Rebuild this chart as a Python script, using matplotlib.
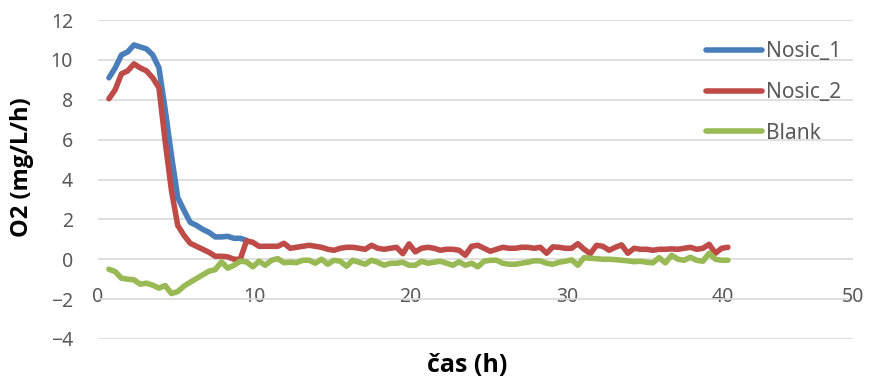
import matplotlib
matplotlib.use("Agg")
import matplotlib.pyplot as plt
from matplotlib.transforms import blended_transform_factory, ScaledTranslation

plt.rcParams['font.family'] = ['Noto Sans', 'DejaVu Sans']

times = [0.7, 1.1, 1.5, 1.9, 2.3, 2.7, 3.1, 3.5, 3.9, 4.3,
         4.7, 5.1, 5.5, 5.9, 6.3, 6.7, 7.1, 7.5, 7.9, 8.3,
         8.7, 9.1, 9.5, 9.9, 10.3, 10.7, 11.1, 11.5, 11.9, 12.3,
         12.7, 13.1, 13.5, 13.9, 14.3, 14.7, 15.1, 15.5, 15.9, 16.3,
         16.7, 17.1, 17.5, 17.9, 18.3, 18.7, 19.1, 19.5, 19.9, 20.3,
         20.7, 21.1, 21.5, 21.9, 22.3, 22.7, 23.1, 23.5, 23.9, 24.3,
         24.7, 25.1, 25.5, 25.9, 26.3, 26.7, 27.1, 27.5, 27.9, 28.3,
         28.7, 29.1, 29.5, 29.9, 30.3, 30.7, 31.1, 31.5, 31.9, 32.3,
         32.7, 33.1, 33.5, 33.9, 34.3, 34.7, 35.1, 35.5, 35.9, 36.3,
         36.7, 37.1, 37.5, 37.9, 38.3, 38.7, 39.1, 39.5, 39.9, 40.3]

nosic_1 = [9.1, 9.6, 10.25, 10.4, 10.75, 10.65, 10.55, 10.25, 9.6, 7.5,
           5.2, 3.1, 2.45, 1.85, 1.7, 1.5, 1.35, 1.12, 1.12, 1.15,
           1.05, 1.05, 0.95]

nosic_2 = [8.05, 8.5, 9.3, 9.45, 9.8, 9.6, 9.45, 9.1, 8.6, 5.9,
           3.45, 1.7, 1.2, 0.8, 0.65, 0.5, 0.35, 0.15, 0.15, 0.12,
           0.0, 0.0, 0.92, 0.85, 0.65, 0.65, 0.65, 0.65, 0.8, 0.55,
           0.6, 0.65, 0.7, 0.65, 0.6, 0.5, 0.45, 0.55, 0.6, 0.6,
           0.55, 0.5, 0.7, 0.55, 0.5, 0.55, 0.6, 0.28, 0.77, 0.37,
           0.55, 0.6, 0.55, 0.45, 0.5, 0.5, 0.45, 0.2, 0.65, 0.7,
           0.55, 0.4, 0.5, 0.6, 0.55, 0.55, 0.6, 0.6, 0.55, 0.6,
           0.3, 0.62, 0.6, 0.55, 0.55, 0.78, 0.5, 0.28, 0.7, 0.65,
           0.45, 0.6, 0.72, 0.3, 0.55, 0.5, 0.5, 0.45, 0.5, 0.5,
           0.52, 0.5, 0.55, 0.6, 0.5, 0.55, 0.75, 0.3, 0.55, 0.6]

blank = [-0.5, -0.62, -0.95, -1.0, -1.03, -1.25, -1.2, -1.3, -1.45, -1.32,
         -1.72, -1.62, -1.35, -1.15, -0.97, -0.78, -0.6, -0.52, -0.13, -0.45,
         -0.3, -0.1, -0.13, -0.38, -0.1, -0.3, -0.05, 0.03, -0.17, -0.15,
         -0.17, -0.05, -0.05, -0.2, 0.0, -0.25, -0.05, -0.1, -0.35, -0.05,
         -0.15, -0.25, -0.05, -0.15, -0.3, -0.2, -0.2, -0.15, -0.3, -0.3,
         -0.1, -0.2, -0.15, -0.1, -0.2, -0.3, -0.13, -0.3, -0.2, -0.38,
         -0.1, -0.05, -0.05, -0.2, -0.25, -0.25, -0.2, -0.15, -0.08, -0.08,
         -0.2, -0.25, -0.15, -0.1, -0.03, -0.3, 0.08, 0.05, 0.03, 0.0,
         0.0, -0.02, -0.05, -0.08, -0.12, -0.1, -0.15, -0.18, 0.08, -0.18,
         0.2, 0.0, -0.05, 0.1, -0.05, -0.1, 0.3, 0.0, -0.05, -0.05]

series_names = ["Nosic_1", "Nosic_2", "Blank"]
x_ticks = [0, 10, 20, 30, 40]
x_last_label = "50"
y_ticks = [-4, -2, 0, 2, 4, 6, 8, 10, 12]

W, H = 869, 381
fig = plt.figure(figsize=(W / 100, H / 100), dpi=100)
left, right, top, bottom = 98, 853, 20, 339
ax = fig.add_axes([left / W, 1 - bottom / H, (right - left) / W, (bottom - top) / H])

lw = 4.0
kw = dict(lw=lw, solid_capstyle="round", solid_joinstyle="round", zorder=3)
ax.plot(times[:len(nosic_1)], nosic_1, color="#4A7EBB", label=series_names[0], **kw)
ax.plot(times[:len(nosic_2)], nosic_2, color="#BE4B48", label=series_names[1], **kw)
ax.plot(times[:len(blank)], blank, color="#98B954", label=series_names[2], **kw)

x_max = (right - left) / 15.63
ax.set_xlim(0, x_max)
ax.set_ylim(-4, 12)
ax.set_yticks(y_ticks)
ax.set_xticks(x_ticks)
ax.grid(axis="y", color="#D9D9D9", lw=1.2, zorder=0)
ax.set_axisbelow(True)
for s in ax.spines.values():
    s.set_visible(False)
ax.spines['bottom'].set_position(('data', 0))

tick_color = "#595959"
ax.tick_params(axis="y", length=0, pad=18, labelsize=14, labelcolor=tick_color)
ax.tick_params(axis="x", length=0, pad=20, labelsize=14, labelcolor=tick_color)

trans = blended_transform_factory(ax.transAxes, ax.transData)
ax.text(1.0, 0, x_last_label, ha="center", va="top", fontsize=14, color=tick_color,
        transform=trans + ScaledTranslation(0, -20 / 72, fig.dpi_scale_trans))

bold_family = ['Open Sans', 'DejaVu Sans']
ax.set_ylabel("O2 (mg/L/h)", fontsize=17, fontweight="bold", color="black", family=bold_family)
ax.yaxis.set_label_coords(-(98 - 22) / (right - left), 1 - (167 - top) / (bottom - top))
ax.set_xlabel("čas (h)", fontsize=18, fontweight="bold", color="black", family=bold_family)
ax.xaxis.set_label_coords((467 - left) / (right - left), -(365 - bottom) / (bottom - top))
ax.xaxis.label.set_va("center")
ax.yaxis.label.set_va("center")

leg = ax.legend(loc="upper left", bbox_to_anchor=(706 / W, 1 - 41 / H),
                bbox_transform=fig.transFigure, frameon=False, fontsize=15,
                handlelength=2.7, handletextpad=0.2, labelspacing=0.95,
                borderpad=0, borderaxespad=0)
for t in leg.get_texts():
    t.set_color(tick_color)

fig.savefig("out.png", dpi=100)
